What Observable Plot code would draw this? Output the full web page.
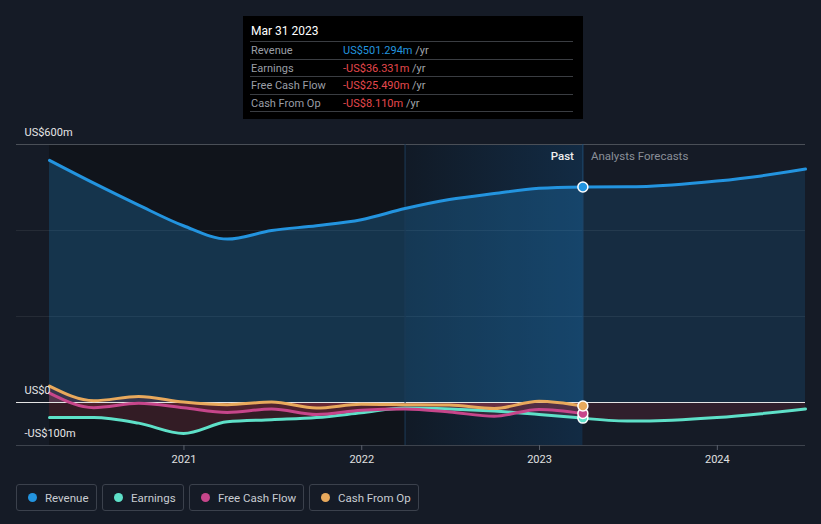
<!DOCTYPE html>
<html>
<head>
<meta charset="utf-8">
<script src="https://cdn.jsdelivr.net/npm/d3@7"></script>
<script src="https://cdn.jsdelivr.net/npm/@observablehq/plot@0.6"></script>
<style>
  html, body { margin: 0; padding: 0; background: #151b26; }
  #wrap { position: relative; width: 821px; height: 524px; overflow: hidden; font-family: Roboto, "Noto Sans", sans-serif; }
  #chart { position: absolute; left: 0; top: 0; }
  #tip { position: absolute; left: 243px; top: 16px; width: 340px; height: 103px; background: #000; font-size: 11px; }
  #tip .tdate { position: absolute; left: 8px; top: 8px; color: #fff; font-size: 12px; }
  #tip .row { position: absolute; left: 7px; width: 323px; height: 17.5px; line-height: 17.5px; border-top: 1px solid #3a3d42; box-sizing: border-box; }
  #tip .row.last { border-bottom: 1px solid #3a3d42; height: 18.5px; }
  #tip .lab { position: absolute; left: 1px; color: #9a9ea6; }
  #tip .val { position: absolute; left: 93px; white-space: nowrap; }
  #tip .yr { color: #a0a4ab; }
  #legend { position: absolute; left: 0; top: 484px; width: 821px; height: 27px; }
  #legend .item { position: absolute; top: 0; display: flex; align-items: center; height: 27px; box-sizing: border-box; border: 1px solid #3b414c; border-radius: 3px; padding: 0 0 0 11px; color: #c8ccd2; font-size: 11.5px; white-space: nowrap; }
  #legend .dot { width: 9px; height: 9px; border-radius: 50%; margin-right: 8px; flex: none; }
</style>
</head>
<body>
<div id="wrap">
  <div id="chart"></div>
  <div id="tip"></div>
  <div id="legend"></div>
</div>
<script>
// ---------- data ----------
const quarterDates = ["2020-03-31","2020-06-30","2020-09-30","2020-12-31","2021-03-31","2021-06-30","2021-09-30","2021-12-31","2022-03-31","2022-06-30","2022-09-30","2022-12-31","2023-03-31"];
const revenue      = [563, 510, 459, 411, 380, 400, 411, 425, 451, 472, 486, 498, 501.294];
const earnings     = [-35, -35, -48, -72, -45, -40, -35, -24, -13, -15, -20, -28, -36.331];
const freeCashFlow = [22, -12, -2, -12, -23, -15, -28, -18, -15, -22, -32, -16, -25.49];
const cashFromOp   = [38, 4, 14, 1, -5, 1, -13, -4, -5, -6, -14, 3, -8.11];

const forecastDates     = ["2023-03-31","2023-06-30","2023-09-30","2023-12-31","2024-03-31","2024-06-30"];
const revenueForecast   = [501.294, 501.5, 506, 515, 527, 543];
const earningsForecast  = [-36.331, -43, -41, -35, -26, -15];

const seriesNames  = ["Revenue", "Earnings", "Free Cash Flow", "Cash From Op"];
const seriesColors = ["#2394df", "#5ee0c8", "#c6468b", "#e8a95c"];

const yGrid       = [600, 400, 200];
const yTickValues = [600, 0, -100];
const yTickLabels = ["US$600m", "US$0", "-US$100m"];
const xTicks      = ["2021-01-01", "2022-01-01", "2023-01-01", "2024-01-01"];
const xDomain     = ["2020-03-31", "2024-06-30"];
const yDomain     = [-100, 600];
const highlightStart = "2022-03-31";
const tooltipDate = "Mar 31 2023";
const periodLabels = ["Past", "Analysts Forecasts"];

// ---------- build ----------
const parse = d3.utcParse("%Y-%m-%d");
const past = quarterDates.map((d, i) => ({date: parse(d), revenue: revenue[i], earnings: earnings[i], fcf: freeCashFlow[i], cfo: cashFromOp[i]}));
const fut = forecastDates.map((d, i) => ({date: parse(d), revenue: revenueForecast[i], earnings: earningsForecast[i]}));
const pastStart = past[0].date;
const pastEnd = past[past.length - 1].date;
const hlStart = parse(highlightStart);
const last = past[past.length - 1];
const endValues = [last.revenue, last.earnings, last.fcf, last.cfo];
const endDots = endValues.map((v, i) => ({date: pastEnd, value: v, color: seriesColors[i]}));
const curve = "monotone-x";
const red = "#c23a50";

const plot = Plot.plot({
  width: 821,
  height: 470,
  marginLeft: 49,
  marginRight: 16,
  marginTop: 144,
  marginBottom: 25,
  style: {background: "transparent", color: "#d0d3d8", fontFamily: "Roboto, sans-serif", fontSize: "11px", overflow: "visible"},
  x: {type: "utc", domain: xDomain.map(parse)},
  y: {domain: yDomain, axis: null},
  marks: [
    // background regions
    Plot.rect([0], {x1: () => pastStart, x2: () => hlStart, y1: () => yDomain[0], y2: () => yDomain[1], fill: "#10141b"}),
    Plot.rect([0], {x1: () => hlStart, x2: () => pastEnd, y1: () => yDomain[0], y2: () => yDomain[1], fill: "url(#hl)"}),
    // gridlines
    Plot.ruleY(yGrid.slice(1), {stroke: "#ffffff", strokeOpacity: 0.07, insetLeft: -33}),
    Plot.ruleY([yGrid[0]], {stroke: "#4a4f57", insetLeft: -33}),
    Plot.ruleY([yDomain[0]], {stroke: "#3d434d", insetLeft: -33}),
    // areas
    Plot.areaY(past, {x: "date", y1: 0, y2: "revenue", fill: seriesColors[0], fillOpacity: 0.25, curve}),
    Plot.areaY(fut, {x: "date", y1: 0, y2: "revenue", fill: seriesColors[0], fillOpacity: 0.15, curve}),
    Plot.areaY(past, {x: "date", y1: 0, y2: "earnings", fill: red, fillOpacity: 0.2, curve}),
    Plot.areaY(past, {x: "date", y1: 0, y2: "fcf", fill: red, fillOpacity: 0.2, curve}),
    Plot.areaY(past, {x: "date", y1: 0, y2: "cfo", fill: red, fillOpacity: 0.2, curve}),
    Plot.areaY(fut, {x: "date", y1: 0, y2: "earnings", fill: red, fillOpacity: 0.16, curve}),
    // zero line
    Plot.ruleY([0], {stroke: "#e4e4e4", strokeWidth: 1, insetLeft: -33}),
    // divider lines
    Plot.ruleX([hlStart], {y1: yDomain[0], y2: yDomain[1], stroke: "#1c3a55"}),
    Plot.ruleX([pastEnd], {y1: yDomain[0], y2: yDomain[1], stroke: "#1e4f78", insetTop: -26}),
    // lines
    Plot.lineY(fut, {x: "date", y: "revenue", stroke: seriesColors[0], strokeWidth: 3, curve}),
    Plot.lineY(fut, {x: "date", y: "earnings", stroke: seriesColors[1], strokeWidth: 3, curve}),
    Plot.lineY(past, {x: "date", y: "revenue", stroke: seriesColors[0], strokeWidth: 3, curve}),
    Plot.lineY(past, {x: "date", y: "earnings", stroke: seriesColors[1], strokeWidth: 3, curve}),
    Plot.lineY(past, {x: "date", y: "fcf", stroke: seriesColors[2], strokeWidth: 3, curve}),
    Plot.lineY(past, {x: "date", y: "cfo", stroke: seriesColors[3], strokeWidth: 3, curve}),
    // end dots
    Plot.dot(endDots, {x: "date", y: "value", r: 5, fill: "color", stroke: "#ffffff", strokeWidth: 1.5}),
    // period labels
    Plot.text([periodLabels[0]], {x: () => pastEnd, y: () => yDomain[1], dx: -9, dy: 12, textAnchor: "end", fill: "#eeeeee", fontWeight: 500, fontSize: 11.5, text: d => d}),
    Plot.text([periodLabels[1]], {x: () => pastEnd, y: () => yDomain[1], dx: 8, dy: 12, textAnchor: "start", fill: "#8a8f98", fontSize: 11.5, text: d => d}),
    // y labels
    Plot.text(yTickValues, {y: d => d, text: (d, i) => yTickLabels[i], frameAnchor: "left", dx: -25, dy: -12, textAnchor: "start", fill: "#e6e6e6", fontSize: 11}),
    // x axis
    Plot.axisX(xTicks.map(parse), {tickSize: 5, color: "#5a606b", tickFormat: () => ""}),
    Plot.axisX(xTicks.map(parse), {tickSize: 0, tickPadding: 10, color: "#e0e0e0", tickFormat: "%Y", fontSize: 11})
  ]
});

// gradient defs
const svg = d3.select(plot);
const defs = svg.insert("defs", ":first-child");
const g = defs.append("linearGradient").attr("id", "hl").attr("x1", "0").attr("x2", "1").attr("y1", "0").attr("y2", "0");
g.append("stop").attr("offset", "0").attr("stop-color", "#111a26");
g.append("stop").attr("offset", "1").attr("stop-color", "#122b44");

document.getElementById("chart").appendChild(plot);

// tooltip
const fmt = v => (v < 0 ? "-" : "") + "US$" + Math.abs(v).toFixed(3) + "m";
const tip = document.getElementById("tip");
let html = `<div class="tdate">${tooltipDate}</div>`;
seriesNames.forEach((name, i) => {
  const v = endValues[i];
  const col = v < 0 ? "#e5484d" : seriesColors[0];
  html += `<div class="row${i === seriesNames.length - 1 ? " last" : ""}" style="top:${25 + 17.5 * i}px"><span class="lab">${name}</span><span class="val"><span style="color:${col}">${fmt(v)}</span> <span class="yr">/yr</span></span></div>`;
});
tip.innerHTML = html;

// legend (box layout)
const legendLeft  = [16, 102, 189, 309];
const legendWidth = [81, 82, 115, 110];
const legend = document.getElementById("legend");
legend.innerHTML = seriesNames.map((n, i) => `<div class="item" style="left:${legendLeft[i]}px;width:${legendWidth[i]}px"><span class="dot" style="background:${seriesColors[i]}"></span>${n}</div>`).join("");
</script>
</body>
</html>
